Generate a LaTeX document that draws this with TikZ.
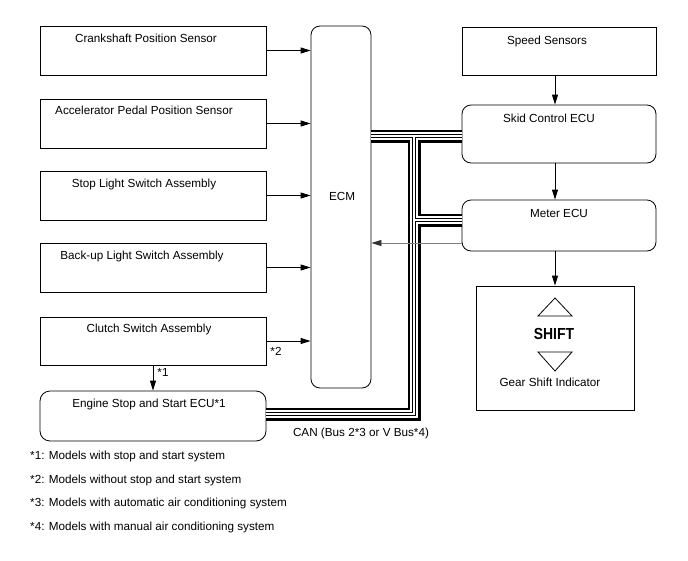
\documentclass[tikz,border=0pt]{standalone}
\usepackage{fontspec}
\setmainfont{Liberation Sans}
\usetikzlibrary{arrows.meta}
\begin{document}
\begin{tikzpicture}[x=1pt,y=-1pt,
  box/.style={draw, line width=0.8pt, inner sep=0pt, anchor=center},
  rbox/.style={box, rounded corners=9pt},
  txt/.style={inner sep=0pt, anchor=base, font=\fontsize{11.7}{14}\selectfont},
  arr/.style={line width=0.8pt, -{Triangle[length=10pt,width=6pt]}},
  grayarr/.style={line width=0.8pt, draw=black!50, -{Triangle[length=10pt,width=6pt,color=black!80]}},
  busA/.style={line width=13pt, draw=black, line join=miter},
  busB/.style={line width=7.5pt, draw=white, line join=miter},
  busC/.style={line width=4pt, draw=black, line join=miter},
  busD/.style={line width=1.6pt, draw=white, line join=miter}
]
\useasboundingbox (0,0) rectangle (688,560);

% left column boxes
\node[box, minimum width=226pt, minimum height=49pt] (crank) at (153,50.5) {};
\node[box, minimum width=226pt, minimum height=49pt] (accel) at (153,123.5) {};
\node[box, minimum width=226pt, minimum height=49pt] (stop) at (153,195.5) {};
\node[box, minimum width=226pt, minimum height=49pt] (backup) at (153,267.5) {};
\node[box, minimum width=226pt, minimum height=48pt] (clutch) at (153,341) {};
\node[rbox, rounded corners=10pt, minimum width=226pt, minimum height=50pt] (engine) at (153,416) {};

\node[txt] (crankT) at (146,42) {Crankshaft Position Sensor};
\node[txt] (accelT) at (144,114) {Accelerator Pedal Position Sensor};
\node[txt] (stopT) at (144,187) {Stop Light Switch Assembly};
\node[txt] (backupT) at (142,259) {Back-up Light Switch Assembly};
\node[txt] (clutchT) at (149,332) {Clutch Switch Assembly};
\node[txt] (engineT) at (149,407) {Engine Stop and Start ECU*1};

% ECM
\node[rbox, minimum width=60pt, minimum height=362pt] (ecm) at (341,207) {};
\node[txt] (ecmT) at (342,200) {ECM};

% right column
\node[box, minimum width=194pt, minimum height=48pt] (speed) at (559,51) {};
\node[rbox, minimum width=194pt, minimum height=58pt] (skid) at (559,134) {};
\node[rbox, minimum width=194pt, minimum height=51pt] (meter) at (559,225.5) {};
\node[box, minimum width=158pt, minimum height=124pt] (gear) at (555,348) {};

\node[txt] (speedT) at (547,44) {Speed Sensors};
\node[txt] (skidT) at (549,122) {Skid Control ECU};
\node[txt] (meterT) at (559,217) {Meter ECU};
\node[txt, font=\fontsize{16}{18}\bfseries] (shiftT) at (554,339) {\scalebox{0.87}[1]{SHIFT}};
\node[txt] (gearT) at (550,386) {Gear Shift Indicator};
\draw[line width=0.8pt, line join=miter] (555,298) -- (572,316) -- (538,316) -- cycle;
\draw[line width=0.8pt, line join=miter] (538,352) -- (572,352) -- (555,371) -- cycle;

% arrows left -> ECM
\draw[arr] (crank.east) -- (crank.east -| ecm.west);
\draw[arr] (accel.east) -- (accel.east -| ecm.west);
\draw[arr] (stop.east) -- (stop.east -| ecm.west);
\draw[arr] (backup.east) -- (backup.east -| ecm.west);
\draw[arr] (clutch.east) -- (clutch.east -| ecm.west);
\draw[arr] (clutch.south) -- (engine.north);
\node[txt] (star2) at (276,355) {*2};
\node[txt] (star1) at (163,376) {*1};

% right arrows
\coordinate (colx) at (555,0);
\draw[arr] (speed.south -| colx) -- (skid.north -| colx);
\draw[arr] (skid.south -| colx) -- (meter.north -| colx);
\draw[arr] (meter.south -| colx) -- (gear.north -| colx);

% CAN bus
\coordinate (busy) at (0,136);
\coordinate (busv) at (414,136);
\coordinate (busc) at (414,414);
\coordinate (busm) at (414,220);
\foreach \st in {busA,busB,busC,busD}{
  \draw[\st] (ecm.east |- busy) -- (skid.west |- busy);
  \draw[\st] (busv) -- (busc) -- (engine.east |- busc);
  \draw[\st] (busm) -- (meter.west |- busm);
}
\node[txt] (canT) at (361,436) {CAN (Bus 2*3 or V Bus*4)};

% meter -> ECM
\coordinate (my) at (0,243);
\draw[grayarr] (meter.west |- my) -- (ecm.east |- my);

% notes
\node[txt, anchor=base west] (n1) at (30,459) {*1: Models with stop and start system};
\node[txt, anchor=base west] (n2) at (30,483) {*2: Models without stop and start system};
\node[txt, anchor=base west] (n3) at (30,506) {*3: Models with automatic air conditioning system};
\node[txt, anchor=base west] (n4) at (30,530) {*4: Models with manual air conditioning system};
\end{tikzpicture}
\end{document}
